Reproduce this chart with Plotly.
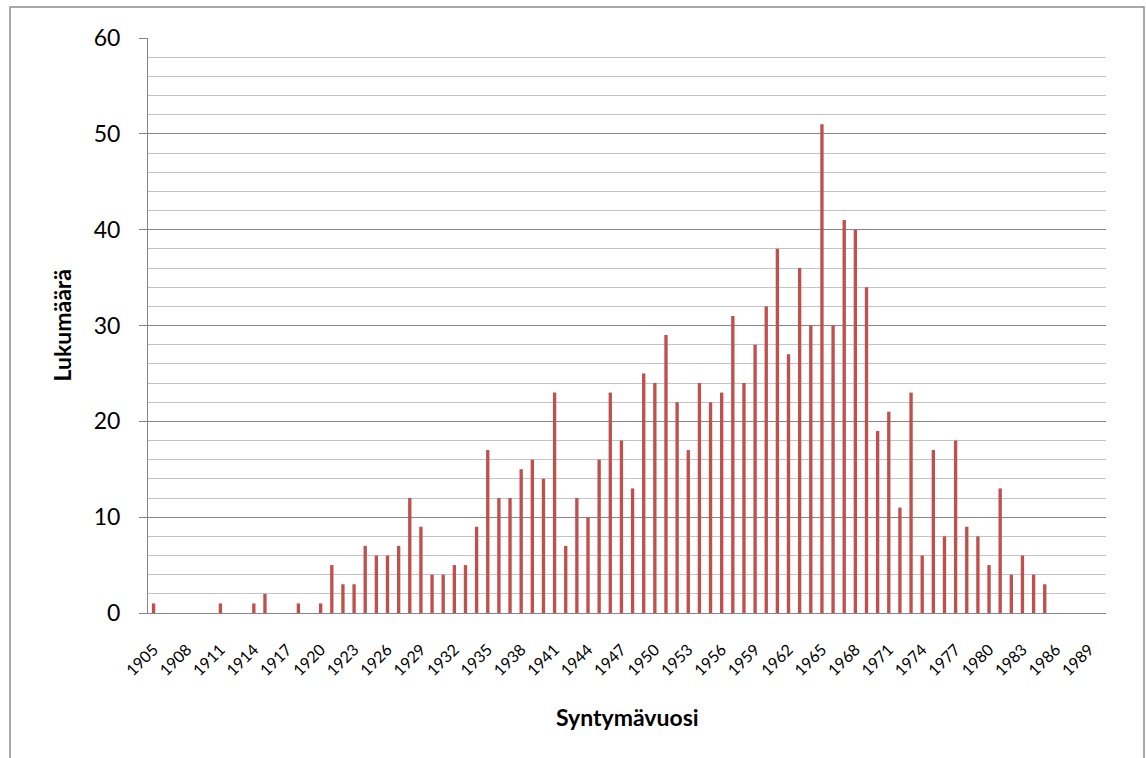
import plotly.graph_objects as go

years = list(range(1905, 1991))
counts = [
    1, 0, 0, 0, 0, 0, 1, 0, 0, 1,      # 1905-1914
    2, 0, 0, 1, 0, 1, 5, 3, 3, 7,      # 1915-1924
    6, 6, 7, 12, 9, 4, 4, 5, 5, 9,     # 1925-1934
    17, 12, 12, 15, 16, 14, 23, 7, 12, 10,  # 1935-1944
    16, 23, 18, 13, 25, 24, 29, 22, 17, 24,  # 1945-1954
    22, 23, 31, 24, 28, 32, 38, 27, 36, 30,  # 1955-1964
    51, 30, 41, 40, 34, 19, 21, 11, 23, 6,   # 1965-1974
    17, 8, 18, 9, 8, 5, 13, 4, 6, 4,         # 1975-1984
    3, 0, 0, 0, 0, 0,                        # 1985-1990
]
tick_years = list(range(1905, 1991, 3))
y_title = "Lukumäärä"
x_title = "Syntymävuosi"

cats = [str(y) for y in years]
tick_labels = [str(y) for y in tick_years]

FONT = "Lato"

fig = go.Figure()
fig.add_trace(go.Bar(
    x=cats, y=counts,
    marker=dict(color="#C0504D", line=dict(width=0)),
    hoverinfo="x+y",
))

W, H = 1146, 758
L, R, T, B = 148, 40, 38, 145
pw = W - L - R
ph = H - T - B

fig.update_layout(
    width=W, height=H,
    margin=dict(l=L, r=R, t=T, b=B),
    paper_bgcolor="white", plot_bgcolor="white",
    bargap=0.7,
    showlegend=False,
    font=dict(family=FONT, color="#000000"),
    xaxis=dict(
        type="category",
        categoryorder="array", categoryarray=cats,
        tickmode="array", tickvals=tick_labels, ticktext=tick_labels,
        tickangle=-45,
        tickfont=dict(size=16, family=FONT),
        showgrid=False,
        showline=True, linecolor="#868686", linewidth=1,
        ticks="", ticklabelstandoff=20,
        range=[-0.5, len(cats) - 0.5],
    ),
    yaxis=dict(
        range=[0, 60],
        tickmode="linear", tick0=0, dtick=10,
        tickfont=dict(size=23, family=FONT),
        showgrid=True, gridcolor="#868686", gridwidth=1,
        showline=True, linecolor="#868686", linewidth=1,
        ticks="outside", ticklen=8, tickcolor="#868686",
        ticklabelstandoff=14,
        zeroline=False,
        minor=dict(dtick=2, tick0=0, showgrid=True, gridcolor="#c4c4c4", gridwidth=1, ticks=""),
    ),
    annotations=[
        dict(text="<b>" + y_title + "</b>", xref="paper", yref="paper",
             x=(61 - L) / pw, y=0.5, textangle=-90, showarrow=False,
             font=dict(size=23, family=FONT), xanchor="center", yanchor="middle"),
        dict(text="<b>" + x_title + "</b>", xref="paper", yref="paper",
             x=0.5, y=(H - B - 717) / ph, showarrow=False,
             font=dict(size=23, family=FONT), xanchor="center", yanchor="middle"),
    ],
    shapes=[
        dict(type="rect", xref="paper", yref="paper",
             x0=(10 - L) / pw, x1=(1144 - L) / pw,
             y0=(H - B - 790) / ph, y1=(H - B - 7) / ph,
             line=dict(color="#8c8c8c", width=1.5), fillcolor="rgba(0,0,0,0)", layer="below"),
    ],
)

fig.write_html(
    "out.html",
    config={"displayModeBar": False},
    post_script="document.body.style.margin='0';document.body.style.padding='0';document.body.style.overflow='hidden';",
)
